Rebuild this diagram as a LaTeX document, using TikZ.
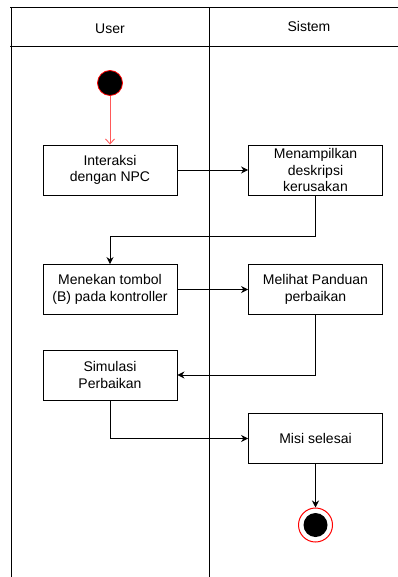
\documentclass[tikz,border=0pt]{standalone}
\usepackage{fontspec}
\setmainfont{Liberation Sans}
\usetikzlibrary{arrows.meta,positioning}

\tikzset{
  act/.style={draw,line width=0.9pt,minimum width=134pt,minimum height=50pt,align=center,font=\fontsize{14}{16.5}\selectfont},
  lane/.style={line width=1pt},
  flow/.style={-{Stealth[length=7pt,width=7pt]},line width=0.9pt},
}

\begin{document}
\begin{tikzpicture}[x=1pt,y=-1pt]
\useasboundingbox (0,0) rectangle (398,577);
% swimlanes
\draw[lane] (10,7.5) -- (398,7.5);
\draw[lane] (10,46.5) -- (398,46.5);
\draw[lane] (11,7.5) -- (11,577);
\draw[lane] (209.5,7.5) -- (209.5,577);
\node[font=\fontsize{14}{16.5}\selectfont] (user) at (110,29) {User};
\node[font=\fontsize{14}{16.5}\selectfont] (sistem) at (309,26) {Sistem};

% start and activities
\node[circle,draw=red,fill=black,line width=0.8pt,minimum size=25pt,inner sep=0pt] (start) at (110,83) {};
\node[act] (a1) at (110,170) {Interaksi\\dengan NPC};
\node[act] (a2) at (315.5,170) {Menampilkan\\deskripsi\\kerusakan};
\node[act] (a3) at (110,289.5) {Menekan tombol\\(B) pada kontroller};
\node[act] (a4) at (315.5,289.5) {Melihat Panduan\\perbaikan};
\node[act] (a5) at (110,375) {Simulasi\\Perbaikan};
\node[act] (a6) at (315.5,438.5) {Misi selesai};
\node[circle,draw=red,line width=1pt,minimum size=34pt,inner sep=0pt] (fin) at (315.5,525) {};
\node[circle,fill=black,minimum size=24pt,inner sep=0pt] (finin) at (fin) {};

% flows
\draw[-{Straight Barb[length=5pt,width=9pt]},red!65,line width=0.9pt] (start) -- (a1);
\draw[flow] (a1) -- (a2);
\draw[flow] (a2.south) -- ++(0,41) -| (a3.north);
\draw[flow] (a3) -- (a4);
\draw[flow] (a4.south) |- (a5.east);
\draw[flow] (a5.south) |- (a6.west);
\draw[flow] (a6) -- (fin);
\end{tikzpicture}
\end{document}
